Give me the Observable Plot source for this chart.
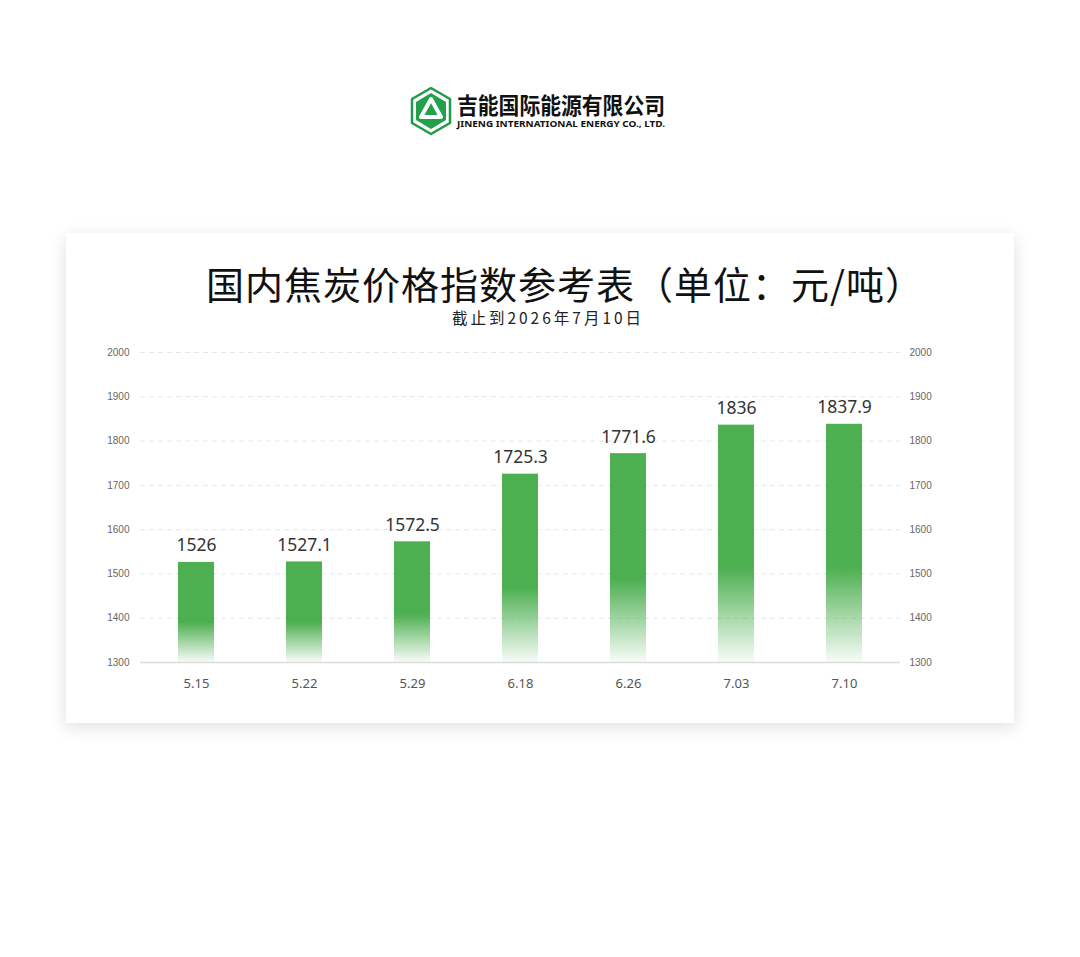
<!DOCTYPE html>
<html>
<head>
<meta charset="utf-8">
<script src="https://cdn.jsdelivr.net/npm/d3@7"></script>
<script src="https://cdn.jsdelivr.net/npm/@observablehq/plot@0.6"></script>
<style>
  html, body { margin:0; padding:0; background:#fff; width:1080px; height:957px; overflow:hidden; font-family:"Noto Sans CJK SC","Noto Sans",sans-serif; }
  #logo { position:absolute; left:406px; top:82px; width:276px; height:60px; }
  #card { position:absolute; left:66px; top:233px; width:948px; height:490px; background:#fff; box-shadow:0 4px 16px rgba(0,0,0,0.13); }
  #title { position:absolute; left:66px; width:948px; top:263px; text-align:center; font-size:38px; color:#111; line-height:40px; padding-left:50px; box-sizing:border-box; letter-spacing:1px; white-space:nowrap; }
  #subtitle { position:absolute; left:66px; width:948px; top:308px; text-align:center; font-size:15.5px; color:#222; letter-spacing:3px; line-height:18px; padding-left:16px; box-sizing:border-box; }
  #chart { position:absolute; left:63px; top:340px; }
</style>
</head>
<body>
<svg id="logo" viewBox="0 0 276 60">
  <polygon points="25,6 44,17 44,41 25,52 6,41 6,17" fill="#fff" stroke="#1f9a48" stroke-width="2.5" stroke-linejoin="round"/>
  <polygon points="25,11 40,20 40,38 25,47 10,38 10,20" fill="#22a04b"/>
  <polygon points="25,17 35,35 15,35" fill="none" stroke="#fff" stroke-width="4" stroke-linejoin="round"/>
  <text x="51" y="32" font-size="22.5" font-weight="bold" fill="#111" font-family="Noto Sans CJK SC" textLength="208" lengthAdjust="spacingAndGlyphs">吉能国际能源有限公司</text>
  <text x="51" y="45" font-size="8.6" font-weight="bold" fill="#111" font-family="Noto Sans, sans-serif" textLength="208" lengthAdjust="spacingAndGlyphs">JINENG INTERNATIONAL ENERGY CO., LTD.</text>
</svg>
<div id="card"></div>
<div id="title">国内焦炭价格指数参考表（单位：元/吨）</div>
<div id="subtitle">截止到2026年7月10日</div>
<div id="chart"></div>
<script>
const dates = ["5.15","5.22","5.29","6.18","6.26","7.03","7.10"];
const prices = [1526, 1527.1, 1572.5, 1725.3, 1771.6, 1836, 1837.9];
const yTicks = [1300,1400,1500,1600,1700,1800,1900,2000];
const gridTicks = [1400,1500,1600,1700,1800,1900,2000];

const data = dates.map((d,i)=>({date:d, price:prices[i]}));

const chart = Plot.plot({
  width: 951,
  height: 362,
  marginTop: 12,
  marginBottom: 40,
  marginLeft: 77,
  marginRight: 114,
  style: {fontFamily: "'Noto Sans', 'Noto Sans CJK SC', sans-serif", background: "transparent"},
  x: {domain: dates, paddingInner: 0.67, paddingOuter: 0.335, label: null},
  y: {domain: [1300, 2000], label: null},
  marks: [
    Plot.ruleY(gridTicks, {stroke:"#e6e6e6", strokeDasharray:"5,4", strokeWidth:1}),
    Plot.ruleY([1300], {stroke:"#dcdcdc", strokeWidth:1.5}),
    Plot.barY(data, {x:"date", y1:1300, y2:"price", fill:"url(#barGrad)", style:"filter: drop-shadow(3px 1px 3px rgba(0,0,0,0.18))"}),
    Plot.text(data, {x:"date", y:"price", text:d=>String(d.price), lineAnchor:"bottom", dy:-11, fontSize:17.5, fill:"#333"}),
    Plot.axisY(yTicks, {anchor:"left", tickSize:0, tickPadding:11, fontSize:10, color:"#666", label:null, tickFormat:d=>String(d), fontFamily:"'Liberation Sans', Arial, sans-serif"}),
    Plot.axisY(yTicks, {anchor:"right", tickSize:0, tickPadding:9, fontSize:10, color:"#666", label:null, tickFormat:d=>String(d), fontFamily:"'Liberation Sans', Arial, sans-serif"}),
    Plot.axisX({tickSize:0, tickPadding:16, fontSize:13, color:"#555", label:null})
  ]
});

const ns = "http://www.w3.org/2000/svg";
const defs = document.createElementNS(ns, "defs");
defs.innerHTML = `<linearGradient id="barGrad" x1="0" y1="0" x2="0" y2="1">
  <stop offset="0" stop-color="#4caf50" stop-opacity="1"/>
  <stop offset="0.6" stop-color="#4caf50" stop-opacity="1"/>
  <stop offset="1" stop-color="#4caf50" stop-opacity="0.04"/>
</linearGradient>`;
chart.insertBefore(defs, chart.firstChild);
document.getElementById("chart").appendChild(chart);
</script>
</body>
</html>
